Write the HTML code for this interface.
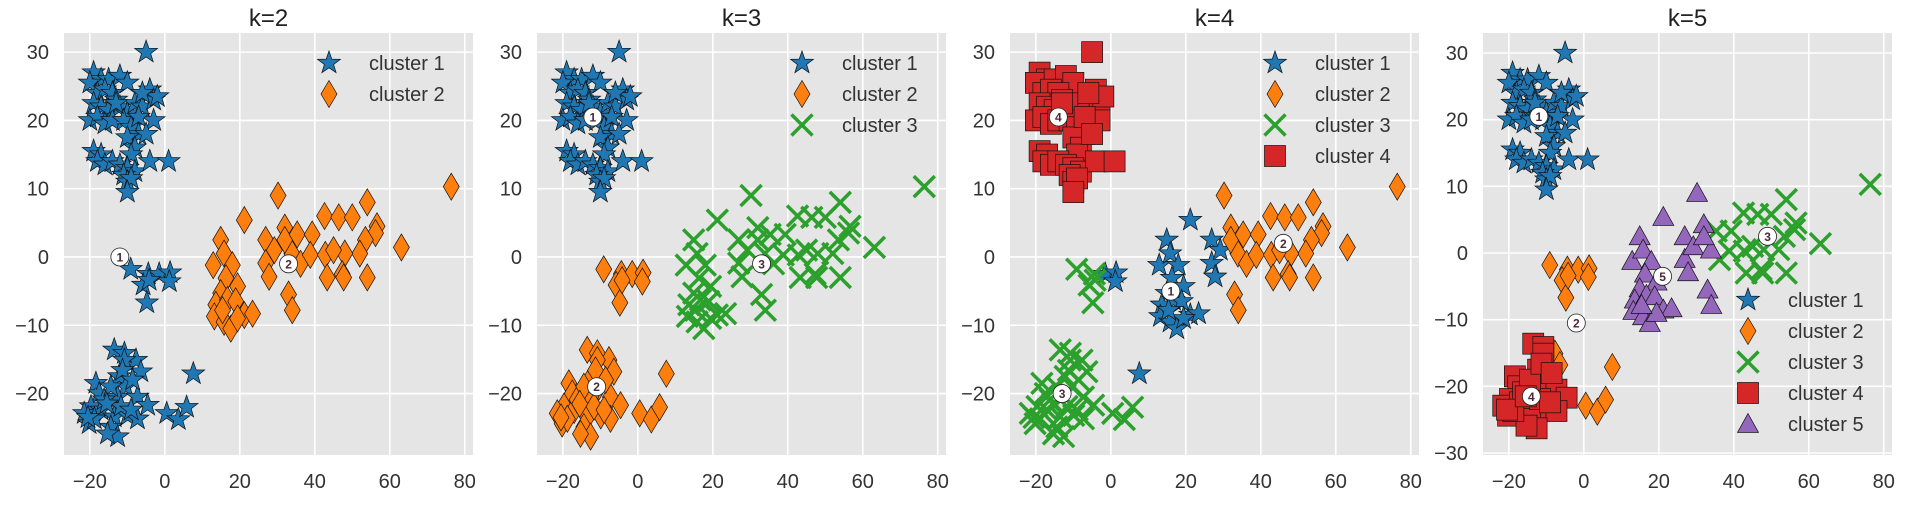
<!DOCTYPE html>
<html><head><meta charset="utf-8"><style>
html,body{margin:0;padding:0;background:#fff;}
svg{display:block;font-family:"Liberation Sans",Arial,sans-serif;}
</style></head><body>
<svg id="fig" width="1923" height="512" viewBox="0 0 1923 512" xmlns="http://www.w3.org/2000/svg"></svg>
<script>
// ---- data ----
const xs = [
 -5,-19,-17,-20,-15,-12,-10,-18,-16,-14,-13,-19,-17,-15,-12,-10,-8,-6,-4,-3,-2,-6,-20,-18,-16,-14,-11,-9,-3,-7,-10,-8,-9,-19,-17,-18,-16,-14,-12,-10,-8,-4,1,-11,-10,-9,-10,-13,-7,-5,
 -9.1,-4.4,-5.8,-1.5,1.4,1.2,-4.8,-4.2,
 -13.5,-10.8,-7.7,-6.4,-10.8,-12.2,-18.4,-17.5,-10.4,-12.6,-7.3,-4.6,-19.7,-21.5,-20.2,-17,-13.5,-9.9,-7.3,-14.4,-12.6,-15.3,-11.7,-9,-16.2,-18.8,-14.4,-11.3,-8.6,-20.5,-15.5,
 7.6,0.5,3.6,5.8,
 14.9,12.9,15.8,18,16.3,14.9,19.4,13.6,16.7,18.9,13.2,15.8,17.6,21.2,23.4,19.4,21.2,15.4,
 26.9,26.9,27.8,29.2,
 30.2,32,33.9,33,34,32,35.3,39.3,42.6,46.4,50,54,56.6,56.2,53.5,52,36.2,38.8,42.8,48,43.3,47.3,47.7,54,63.1,76.4,45
];
const ys = [
 30,27,26,25.5,26,26.5,25.5,24,24.5,24,23,22.5,22,21.5,22,21,22.5,22,24.5,23,23.5,24,20,20.5,19.5,20,20,19,20,18,17.5,16,15,15.5,15,14,13.5,14,13.5,13,12.5,14,14,12,11,11.5,9.5,22.5,20.5,18,
 -1.8,-2.5,-4.1,-2.5,-2.3,-3.6,-6.7,-3.4,
 -13.6,-14.1,-15.1,-16.8,-15.1,-17.5,-18.5,-20,-19,-20.5,-20.5,-21.7,-21.9,-22.9,-24.4,-22.4,-23.4,-23.2,-23.7,-24.9,-26.3,-25.9,-21.9,-22.4,-20.9,-23.7,-19,-16.6,-18,-23.5,-21.5,
 -17.1,-22.9,-23.8,-22,
 2.5,-1.2,0.5,-1.2,-3.1,-5.3,-4.3,-7,-6.3,-6.5,-8.7,-9.5,-10.5,-8.5,-8.3,-9,5.4,-7.8,
 2.5,-0.9,-2.9,1,
 9,4.3,0.5,-5.5,-7.8,2.5,3.3,3.3,6,5.8,5.8,8,4.5,3.5,2.5,0.5,-1,0.3,0.3,0.5,-3,-2.5,-3,-3,1.4,10.3,1
];
// cluster labels per k (groups separated by spaces)
const labelsK2 = "11111111111111111111111111111111111111111111111111 11111111 1111111111111111111111111111111 1111 222222222222222222 2222 222222222222222222222222222";
const labelsK3 = "11111111111111111111111111111111111111111111111111 22222222 2222222222222222222222222222222 2222 333333333333333333 3333 333333333333333333333333333";
const labelsK4 = "44444444444444444444444444444444444444444444444444 33311133 3333333333333333333333333333333 1333 111111111111111111 1111 222222222222222222222222222";
const labelsK5 = "11111111111111111111111111111111111111111111111111 22222222 4422444444444444444444444444444 2222 555555555555555555 5555 555555333333333333333333333";
const kValues = [2,3,4,5];
const centroidsX = [[-12,33],[-12,-11,33],[16,46,-13,-14],[-12,-2,49,-14,21]];
const centroidsY = [[0,-1],[20.5,-19,-1],[-5,2,-20,20.5],[20.5,-10.5,2.5,-21.5,-3.5]];
const xTicks = [-20,0,20,40,60,80];
const yTicksA = [-20,-10,0,10,20,30];
const yTicksB = [-30,-20,-10,0,10,20,30];

// ---- drawing ----
const NS="http://www.w3.org/2000/svg";
const svg=document.getElementById('fig');
const colors=['#1f77b4','#ff7f0e','#2ca02c','#d62728','#9467bd'];
function mk(tag,attrs,parent){const e=document.createElementNS(NS,tag);for(const k in attrs)e.setAttribute(k,attrs[k]);(parent||svg).appendChild(e);return e;}
function starPath(cx,cy,R,r){let d='';for(let i=0;i<10;i++){const a=-Math.PI/2+i*Math.PI/5;const rr=i%2?r:R;d+=(i?'L':'M')+(cx+rr*Math.cos(a)).toFixed(1)+','+(cy+rr*Math.sin(a)).toFixed(1);}return d+'Z';}
function marker(g,c,cx,cy,s){
  let e;
  if(c===0){e=mk('path',{d:starPath(cx,cy,12*s,4.8*s),fill:colors[0],stroke:'#111','stroke-width':0.7},g);}
  else if(c===1){e=mk('path',{d:`M${cx},${cy-13.5*s}L${cx+8*s},${cy}L${cx},${cy+13.5*s}L${cx-8*s},${cy}Z`,fill:colors[1],stroke:'#111','stroke-width':0.7},g);}
  else if(c===2){const h=10.5*s;e=mk('path',{d:`M${cx-h},${cy-h}L${cx+h},${cy+h}M${cx-h},${cy+h}L${cx+h},${cy-h}`,stroke:colors[2],'stroke-width':3.5,fill:'none'},g);}
  else if(c===3){const h=10.5*s;e=mk('rect',{x:cx-h,y:cy-h,width:2*h,height:2*h,fill:colors[3],stroke:'#111','stroke-width':0.7},g);}
  else {const h=10.5*s;e=mk('path',{d:`M${cx},${cy-h}L${cx+h},${cy+h*0.8}L${cx-h},${cy+h*0.8}Z`,fill:colors[4],stroke:'#111','stroke-width':0.7},g);}
  return e;
}
const XMIN=-26.9,XMAX=82.2,TOP=33,BOT=455,W=409;
const lefts=[64,537,1010,1483];
kValues.forEach((k,pi)=>{
  const L=lefts[pi];
  const ymin=pi===3?-30.3:-29.0, ymax=pi===3?33.0:32.8;
  const X=v=>L+(v-XMIN)/(XMAX-XMIN)*W;
  const Y=v=>TOP+(ymax-v)/(ymax-ymin)*(BOT-TOP);
  const g=mk('g',{});
  
  
  const bg=mk('rect',{x:L,y:TOP,width:W,height:BOT-TOP,fill:'#e5e5e5'},g);
  
  
  const yt=pi===3?yTicksB:yTicksA;
  xTicks.forEach(t=>{
    const gl=mk('line',{x1:X(t),x2:X(t),y1:TOP,y2:BOT,stroke:'#fff','stroke-width':1.6},g);
    
    
    const tl=mk('text',{x:X(t),y:488,'text-anchor':'middle','font-size':20,fill:'#333'},g);
    tl.textContent=(t<0?'\u2212'+(-t):t);
    
    
  });
  yt.forEach(t=>{
    const gl=mk('line',{x1:L,x2:L+W,y1:Y(t),y2:Y(t),stroke:'#fff','stroke-width':1.6},g);
    
    
    const tl=mk('text',{x:L-15,y:Y(t)+7,'text-anchor':'end','font-size':20,fill:'#333'},g);
    tl.textContent=(t<0?'\u2212'+(-t):t);
    
    
  });
  const title=mk('text',{x:L+W/2,y:26,'text-anchor':'middle','font-size':24,fill:'#222'},g);
  title.textContent='k='+k;
  
  
  const labs=[labelsK2,labelsK3,labelsK4,labelsK5][pi].replace(/\s/g,'').split('').map(Number);
  for(let c=1;c<=k;c++){
    for(let i=0;i<xs.length;i++){
      if(labs[i]!==c)continue;
      const m=marker(g,c-1,X(xs[i]),Y(ys[i]),1);
      
      
    }
  }
  centroidsX[pi].forEach((cx,ci)=>{
    const cg=mk('g',{},g);
    
    
    mk('circle',{cx:X(cx),cy:Y(centroidsY[pi][ci]),r:9,fill:'#fff',stroke:'#222','stroke-width':0.8},cg);
    const t=mk('text',{x:X(cx),y:Y(centroidsY[pi][ci])+4.5,'text-anchor':'middle','font-size':12,'font-weight':'bold',fill:'#4a2a3a'},cg);
    t.textContent=ci+1;
  });
  // legend
  const lg=mk('g',{},g);
  
  
  const ly0=pi===3?300:63;
  for(let c=0;c<k;c++){
    const y=ly0+c*31;
    const e=mk('g',{},lg);
    
    
    marker(e,c,L+265,y,1);
    const t=mk('text',{x:L+305,y:y+7,'font-size':20,fill:'#333'},e);
    t.textContent='cluster '+(c+1);
  }
});
</script>
</body></html>
